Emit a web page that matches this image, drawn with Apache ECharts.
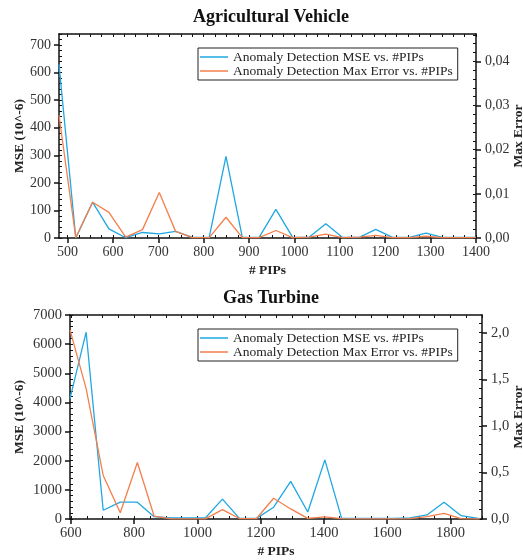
<!DOCTYPE html>
<html>
<head>
<meta charset="utf-8">
<script src="https://cdn.jsdelivr.net/npm/echarts@6/dist/echarts.min.js"></script>
<style>
  html, body { margin: 0; padding: 0; background: #fff; }
  #chartContainer { width: 523px; height: 560px; }
</style>
</head>
<body>
<div id="chartContainer"></div>
<script>
// Agricultural Vehicle
const agriPips = [481, 518, 555, 591, 628, 665, 702, 738, 775, 812, 849, 885, 922,
  959, 996, 1032, 1069, 1106, 1143, 1179, 1216, 1253, 1290, 1326, 1363, 1400];
const agriMse = [630, 0, 130, 33, 1, 20, 15, 24, 2, 2, 296, 2, 2,
  104, 2, 3, 52, 2, 2, 31, 2, 2, 18, 2, 2, 2];
const agriMaxErr = [0.0278, 0.0001, 0.0081, 0.0058, 0.0002, 0.0019, 0.0103, 0.0015, 0.0001, 0.0001, 0.0047, 0.0001, 0.0001,
  0.0017, 0.0001, 0.0002, 0.0009, 0.0001, 0.0002, 0.0006, 0.0001, 0.0001, 0.0004, 0.0001, 0.0001, 0.0001];

// Gas Turbine
const gasPips = [597, 648, 702, 756, 810, 863, 917, 971, 1025, 1079, 1133, 1187, 1241,
  1295, 1349, 1403, 1456, 1510, 1564, 1618, 1672, 1726, 1780, 1834, 1893];
const gasMse = [4130, 6410, 300, 577, 577, 81, 35, 35, 35, 680, 20, 20, 404,
  1292, 242, 2030, 23, 20, 20, 20, 35, 138, 577, 115, 10];
const gasMaxErr = [2.03, 1.40, 0.467, 0.068, 0.607, 0.032, 0.002, 0.002, 0.002, 0.10, 0.005, 0.005, 0.223,
  0.108, 0.007, 0.022, 0.004, 0.002, 0.002, 0.002, 0.005, 0.025, 0.061, 0.004, 0.001];

// tick labels
const agriXTicks = [500, 600, 700, 800, 900, 1000, 1100, 1200, 1300, 1400];
const agriMseTicks = [0, 100, 200, 300, 400, 500, 600, 700];
const agriErrTicks = [0, 0.01, 0.02, 0.03, 0.04];
const gasXTicks = [600, 800, 1000, 1200, 1400, 1600, 1800];
const gasMseTicks = [0, 1000, 2000, 3000, 4000, 5000, 6000, 7000];
const gasErrTicks = [0, 0.5, 1.0, 1.5, 2.0];

const MSE_NAME = 'Anomaly Detection MSE vs. #PIPs';
const ERR_NAME = 'Anomaly Detection Max Error vs. #PIPs';
const BLUE = '#1fa7e2';
const ORANGE = '#f47f4c';
const FONT = "'Liberation Serif', 'Times New Roman', serif";

function steps(from, to, step) {
    const out = [];
    for (let v = from; v <= to + step / 1000; v += step) out.push(+v.toFixed(6));
    return out;
}

const panels = [
    {
        title: 'Agricultural Vehicle', titleTop: 3, labelSize: 14,
        grid: { left: 59, top: 34, width: 417, height: 204 },
        x: { min: 481, max: 1400, labels: agriXTicks, minor: steps(500, 1400, 25) },
        yl: { max: 740, labels: agriMseTicks, minor: steps(0, 740, 20), gap: 32 },
        yr: { max: 0.0462, labels: agriErrTicks, minor: steps(0, 0.046, 0.002), digits: 2, gap: 36 },
        pips: agriPips, mse: agriMse, err: agriMaxErr, legendTop: 48
    },
    {
        title: 'Gas Turbine', titleTop: 284, labelSize: 14.5,
        grid: { left: 70, top: 315, width: 412, height: 204 },
        x: { min: 597, max: 1900, labels: gasXTicks, minor: steps(600, 1900, 50) },
        yl: { max: 7000, labels: gasMseTicks, minor: steps(0, 7000, 200), gap: 43 },
        yr: { max: 2.19, labels: gasErrTicks, minor: steps(0, 2.1, 0.1), digits: 1, gap: 30 },
        pips: gasPips, mse: gasMse, err: gasMaxErr, legendTop: 329
    }
];

const axisLine = { show: true, onZero: false, lineStyle: { color: '#111', width: 1.5 } };
const nameStyle = { fontFamily: FONT, fontSize: 13.5, fontWeight: 'bold', color: '#222' };
const plain = v => String(v);

const option = {
    animation: false,
    backgroundColor: '#fff',
    title: [], legend: [], grid: [], xAxis: [], yAxis: [], series: []
};

panels.forEach((p, k) => {
    const g = 2 * k;
    const labelStyle = { fontFamily: FONT, fontSize: p.labelSize, color: '#333' };
    option.title.push({
        text: p.title, left: 266, top: p.titleTop, textAlign: 'center',
        textStyle: { fontFamily: FONT, fontSize: 18, fontWeight: 'bold', color: '#111' }
    });
    option.legend.push({
        data: [MSE_NAME, ERR_NAME], orient: 'vertical', left: 198, top: p.legendTop,
        padding: [2, 5, 2, 2], itemGap: 0, itemWidth: 28, itemHeight: 1.5, itemTextGap: 4,
        icon: 'rect', borderColor: '#222', borderWidth: 1, borderRadius: 0, selectedMode: false,
        textStyle: { fontFamily: FONT, fontSize: 13.5, color: '#222', lineHeight: 12 }
    });
    const gridOpt = Object.assign({ outerBoundsMode: 'none', containLabel: false }, p.grid);
    option.grid.push(Object.assign({}, gridOpt), Object.assign({}, gridOpt));

    // x axes: bottom (labels), top (inner ticks), overlay bottom (inner ticks)
    option.xAxis.push({
        type: 'value', gridIndex: g, position: 'bottom', min: p.x.min, max: p.x.max,
        name: '# PIPs', nameLocation: 'middle', nameGap: 26, nameTextStyle: nameStyle, nameMoveOverlap: false,
        axisLine, splitLine: { show: false },
        axisTick: { customValues: p.x.labels, length: 5, lineStyle: { color: '#111', width: 1.5 } },
        axisLabel: Object.assign({ customValues: p.x.labels, margin: 7, formatter: plain }, labelStyle)
    }, {
        type: 'value', gridIndex: g, position: 'top', min: p.x.min, max: p.x.max,
        axisLine, splitLine: { show: false }, axisLabel: { show: false },
        axisTick: { inside: true, customValues: p.x.minor, length: 3, lineStyle: { color: '#111' } }
    }, {
        type: 'value', gridIndex: g + 1, position: 'bottom', min: p.x.min, max: p.x.max,
        axisLine: { show: false }, splitLine: { show: false }, axisLabel: { show: false },
        axisTick: { inside: true, customValues: p.x.minor, length: 3, lineStyle: { color: '#111' } }
    });

    const fmtErr = v => v.toFixed(p.yr.digits).replace('.', ',');
    option.yAxis.push({
        type: 'value', gridIndex: g, position: 'left', min: 0, max: p.yl.max,
        name: 'MSE (10^-6)', nameLocation: 'middle', nameRotate: 90, nameGap: p.yl.gap,
        nameTextStyle: nameStyle, nameMoveOverlap: false,
        axisLine, splitLine: { show: false },
        axisTick: { show: true, customValues: p.yl.labels, length: 5, lineStyle: { color: '#111', width: 1.5 } },
        axisLabel: Object.assign({ customValues: p.yl.labels, margin: 8, formatter: plain }, labelStyle)
    }, {
        type: 'value', gridIndex: g, position: 'right', min: 0, max: p.yr.max,
        name: 'Max Error', nameLocation: 'middle', nameRotate: 90, nameGap: p.yr.gap,
        nameTextStyle: nameStyle, nameMoveOverlap: false,
        axisLine, splitLine: { show: false },
        axisTick: { show: true, customValues: p.yr.labels, length: 5, lineStyle: { color: '#111', width: 1.5 } },
        axisLabel: Object.assign({ customValues: p.yr.labels, margin: 9, formatter: fmtErr }, labelStyle)
    }, {
        type: 'value', gridIndex: g + 1, position: 'left', min: 0, max: p.yl.max,
        axisLine: { show: false }, splitLine: { show: false }, axisLabel: { show: false },
        axisTick: { show: true, inside: true, customValues: p.yl.minor, length: 3, lineStyle: { color: '#111' } }
    }, {
        type: 'value', gridIndex: g + 1, position: 'right', min: 0, max: p.yr.max,
        axisLine: { show: false }, splitLine: { show: false }, axisLabel: { show: false },
        axisTick: { show: true, inside: true, customValues: p.yr.minor, length: 3, lineStyle: { color: '#111' } }
    });

    option.series.push({
        name: MSE_NAME, type: 'line', xAxisIndex: 3 * k, yAxisIndex: 4 * k,
        symbol: 'none', color: BLUE, lineStyle: { color: BLUE, width: 1.3 },
        data: p.pips.map((x, i) => [x, p.mse[i]])
    }, {
        name: ERR_NAME, type: 'line', xAxisIndex: 3 * k, yAxisIndex: 4 * k + 1,
        symbol: 'none', color: ORANGE, lineStyle: { color: ORANGE, width: 1.3 },
        data: p.pips.map((x, i) => [x, p.err[i]])
    });
});

const myChart = echarts.init(document.getElementById('chartContainer'));
myChart.setOption(option);
</script>
</body>
</html>
